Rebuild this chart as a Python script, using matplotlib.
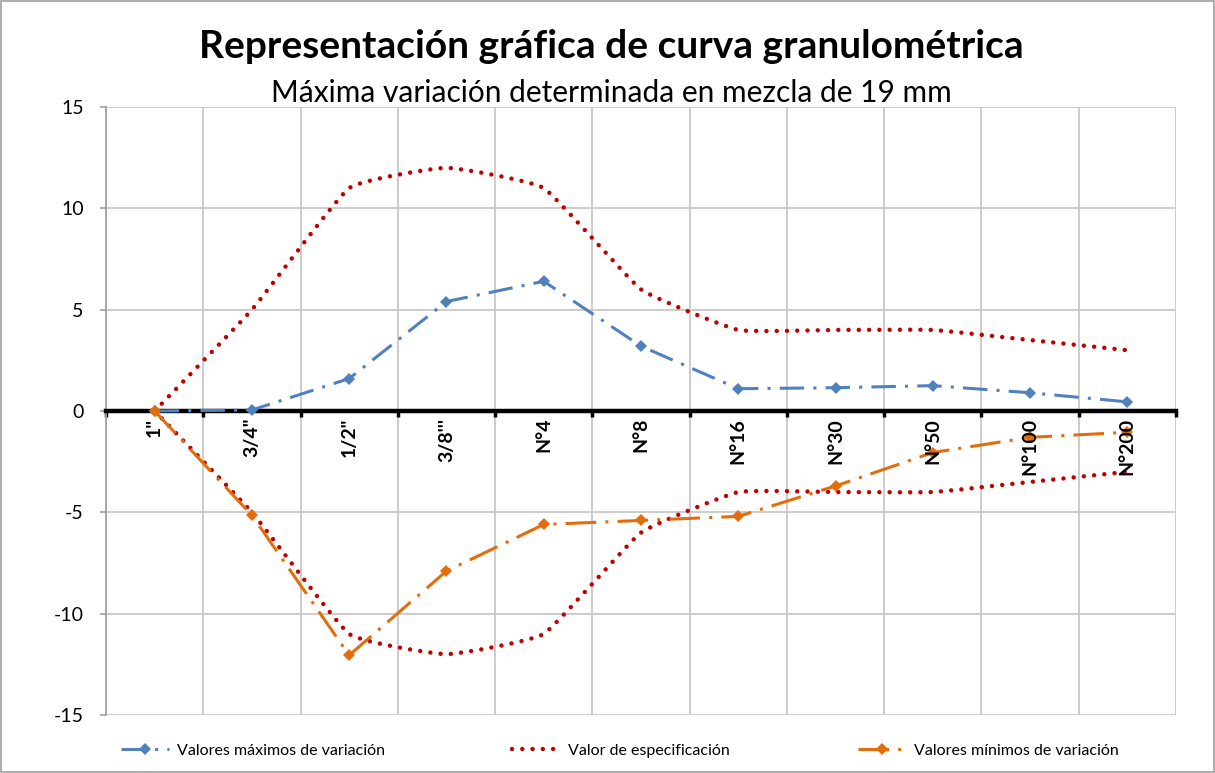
import numpy as np
import matplotlib
matplotlib.use("Agg")
import matplotlib.pyplot as plt
from matplotlib.patches import Rectangle

categories = ['1"', '3/4"', '1/2"', "3/8'''", 'N°4', 'N°8', 'N°16', 'N°30', 'N°50', 'N°100', 'N°200']
valores_max = [0.0, 0.05, 1.6, 5.4, 6.4, 3.2, 1.1, 1.15, 1.25, 0.9, 0.45]
espec_sup = [0, 5, 11, 12, 11, 6, 4, 4, 4, 3.5, 3]
espec_inf = [0, -5, -11, -12, -11, -6, -4, -4, -4, -3.5, -3]
valores_min = [0.0, -5.15, -12.05, -7.9, -5.6, -5.4, -5.2, -3.7, -2.05, -1.3, -1.05]

title = "Representación gráfica de curva granulométrica"
subtitle = "Máxima variación determinada en mezcla de 19 mm"

FONT = "Lato"
plt.rcParams['font.family'] = [FONT, 'DejaVu Sans']
plt.rcParams['axes.unicode_minus'] = False


def smooth(xs, ys, f=0.06, n=30):
    p = np.column_stack([xs, ys]).astype(float)
    out = []
    for i in range(len(p) - 1):
        p0 = p[i - 1] if i > 0 else p[i]
        p1 = p[i]
        p2 = p[i + 1]
        p3 = p[i + 2] if i + 2 < len(p) else p[i + 1]
        c1 = p1 + (p2 - p0) * f
        c2 = p2 - (p3 - p1) * f
        t = np.linspace(0, 1, n, endpoint=(i == len(p) - 2))[:, None]
        seg = ((1 - t) ** 3) * p1 + 3 * ((1 - t) ** 2) * t * c1 + 3 * (1 - t) * t ** 2 * c2 + t ** 3 * p2
        out.append(seg)
    out = np.vstack(out)
    return out[:, 0], out[:, 1]


fig = plt.figure(figsize=(12.15, 7.73), dpi=100)
ax = fig.add_axes([106 / 1215, 1 - 715 / 773, (1176 - 106) / 1215, (715 - 107) / 773])

x = np.arange(len(categories))

blue = '#4F81BD'
red = '#C00000'
orange = '#E46C0A'

l1, = ax.plot(x, valores_max, color=blue, lw=2.2, linestyle=(0, (8, 3, 1, 3)),
              marker='D', ms=6, markeredgewidth=0, zorder=3, label='Valores máximos de variación')
sx, sy = smooth(x, espec_sup)
l2, = ax.plot(sx, sy, color=red, lw=3.2, linestyle=(0, (0.01, 2.3)), dash_capstyle='round',
              zorder=3, label='Valor de especificación')
sx2, sy2 = smooth(x, espec_inf)
ax.plot(sx2, sy2, color=red, lw=3.2, linestyle=(0, (0.01, 2.3)), dash_capstyle='round', zorder=3)
l3, = ax.plot(x, valores_min, color=orange, lw=2.2, linestyle=(0, (10, 3, 1, 3)),
              marker='D', ms=6, markeredgewidth=0, zorder=4, label='Valores mínimos de variación')

ax.set_xlim(-0.5, len(categories) - 0.5)
ax.set_ylim(-15, 15)
ax.set_yticks([-15, -10, -5, 0, 5, 10, 15])
ax.tick_params(axis='y', labelsize=14, color='#A0A0A0', length=4, width=1.2, pad=12)

ax.set_xticks(np.arange(-0.5, len(categories), 1.0))
ax.set_xticklabels([])
ax.tick_params(axis='x', which='major', direction='out', length=4, width=2.5, color='black')
for i, lab in enumerate(categories):
    ax.annotate(lab, xy=(x[i], 0), xytext=(0, -5), textcoords='offset points',
                rotation=90, ha='center', va='top', fontsize=14, fontweight='bold',
                annotation_clip=False, zorder=5)

ax.grid(True, which='major', color='#C8C8C8', lw=1.3)
ax.set_axisbelow(True)

for s in ['top', 'right']:
    ax.spines[s].set_visible(False)
ax.spines['left'].set_color('#A0A0A0')
ax.spines['left'].set_linewidth(1.3)
ax.spines['bottom'].set_position(('data', 0))
ax.spines['bottom'].set_color('black')
ax.spines['bottom'].set_linewidth(3.2)
ax.spines['bottom'].set_zorder(2.5)

fig.text(0.503, 1 - 47 / 773, title, ha='center', va='center', fontsize=28, fontweight='bold')
fig.text(0.503, 1 - 93 / 773, subtitle, ha='center', va='center', fontsize=21.5)

fig.legend(handles=[l1, l2, l3], loc='center', bbox_to_anchor=(0.51, 1 - 751 / 773), ncol=3,
           frameon=False, fontsize=11.5, columnspacing=8.0, handlelength=3.0, handletextpad=0.5)

fig.patches.append(Rectangle((0.001, 0.001), 0.998, 0.998, transform=fig.transFigure,
                             fill=False, edgecolor='#A0A0A0', lw=1.2))

fig.savefig('out.png', dpi=100)
